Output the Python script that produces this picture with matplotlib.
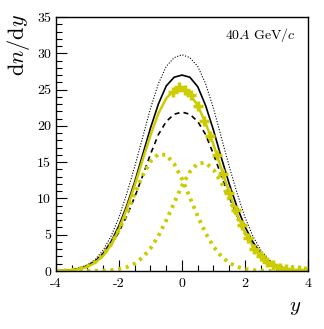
import numpy as np
import matplotlib
matplotlib.use("Agg")
import matplotlib.pyplot as plt
from matplotlib.ticker import MultipleLocator, FuncFormatter

plt.rcParams['mathtext.fontset'] = 'cm'
plt.rcParams['font.family'] = ['cmr10', 'DejaVu Serif']

# rapidity grid of the model curves
y = np.arange(-4, 4.01, 0.25)

# model curves, dn/dy
total_dotted = [0.03, 0.08, 0.19, 0.42, 0.85, 1.6, 2.9, 4.8, 7.4, 10.7, 14.4, 18.4, 22.4, 25.8, 28.2, 29.4, 29.8,
                29.4, 28.2, 25.8, 22.4, 18.4, 14.4, 10.7, 7.4, 4.8, 2.9, 1.6, 0.85, 0.42, 0.19, 0.08, 0.03]
total_solid = [0.03, 0.07, 0.16, 0.35, 0.72, 1.38, 2.45, 4.05, 6.25, 9.05, 12.3, 16.0, 19.7, 23.0, 25.5, 26.7, 27.0,
               26.7, 25.4, 22.8, 19.4, 15.6, 12.0, 8.8, 6.1, 4.0, 2.45, 1.4, 0.75, 0.37, 0.17, 0.07, 0.03]
total_dashed = [0.03, 0.07, 0.16, 0.35, 0.7, 1.3, 2.25, 3.6, 5.4, 7.6, 10.2, 13.1, 16.1, 18.8, 20.6, 21.6, 21.9,
                21.6, 20.6, 18.8, 16.1, 13.1, 10.2, 7.6, 5.4, 3.6, 2.25, 1.3, 0.7, 0.35, 0.16, 0.07, 0.03]
fit_sum = [0.02, 0.05, 0.12, 0.27, 0.58, 1.15, 2.1, 3.6, 5.75, 8.6, 11.8, 15.3, 18.7, 21.7, 23.8, 24.9, 25.1,
           24.4, 22.8, 20.4, 17.4, 14.1, 10.8, 7.8, 5.3, 3.4, 2.0, 1.1, 0.58, 0.28, 0.13, 0.06, 0.02]
fit_left = [0.025, 0.063, 0.15, 0.33, 0.67, 1.27, 2.24, 3.69, 5.65, 8.05, 10.67, 13.16, 15.09, 16.11, 15.99, 14.77,
            12.69, 10.14, 7.54, 5.22, 3.36, 2.01, 1.12, 0.58, 0.28, 0.13, 0.05, 0.02, 0.01, 0.0, 0.0, 0.0, 0.0]
fit_right = [0.0, 0.0, 0.0, 0.0, 0.01, 0.02, 0.05, 0.12, 0.26, 0.54, 1.04, 1.86, 3.11, 4.83, 6.98, 9.39, 11.75,
             13.68, 14.81, 14.91, 13.97, 12.18, 9.88, 7.46, 5.23, 3.42, 2.07, 1.17, 0.62, 0.30, 0.14, 0.06, 0.02]

# measured points
data_y = [-0.3, -0.1, 0.1, 0.3, 0.5, 0.7, 0.9, 1.1, 1.3, 1.5, 1.7, 1.9, 2.1, 2.3, 2.5, 2.7, 2.9, 3.1, 3.3, 3.5, 3.7, 3.9]
data_dndy = [24.6, 25.3, 25.0, 24.2, 22.8, 20.7, 18.6, 16.0, 13.4, 10.8, 8.4, 6.3, 4.5, 3.1, 2.0, 1.3, 0.8, 0.45,
             0.25, 0.13, 0.07, 0.03]

yellow = '#cccc00'

fig = plt.figure(figsize=(3.24, 3.29), dpi=100)
ax = fig.add_axes([0.1728, 0.1763, 0.7778, 0.772])

ax.plot(y, total_dotted, color='black', lw=0.8, ls=(0, (1, 1.5)))
ax.plot(y, total_solid, color='black', lw=1.2)
ax.plot(y, total_dashed, color='black', lw=1.2, ls=(0, (3, 2.5)))
ax.plot(y, fit_left, color=yellow, lw=2.8, ls=(0, (0.8, 1.2)))
ax.plot(y, fit_right, color=yellow, lw=2.8, ls=(0, (0.8, 1.2)))
ax.plot(y, fit_sum, color=yellow, lw=1.8)
ax.plot(data_y, data_dndy, ls='none', marker='+', ms=7.5, mew=2.5, color=yellow)

ax.set_xlim(-4, 4)
ax.set_ylim(0, 35)
ax.xaxis.set_major_locator(MultipleLocator(2))
ax.xaxis.set_minor_locator(MultipleLocator(0.5))
ax.yaxis.set_major_locator(MultipleLocator(5))
ax.yaxis.set_minor_locator(MultipleLocator(1))
fmt = FuncFormatter(lambda v, p: '%d' % round(v))
ax.xaxis.set_major_formatter(fmt)
ax.yaxis.set_major_formatter(fmt)
ax.tick_params(which='both', direction='in', top=False, right=False, labelsize=10)
ax.tick_params(which='major', length=8, width=0.8)
ax.tick_params(which='minor', length=4, width=0.8)
ax.tick_params(axis='x', pad=5)
for s in ax.spines.values():
    s.set_linewidth(1.0)

ax.set_ylabel(r'$\mathrm{d}n/\mathrm{d}y$', fontsize=16, loc='top')
ax.yaxis.set_label_coords(-0.095, 1.01)
ax.set_xlabel(r'$y$', fontsize=15, loc='right')
ax.xaxis.set_label_coords(0.975, -0.11)
ax.text(0.95, 0.965, r'$40A\ \mathrm{GeV}/c$', transform=ax.transAxes, ha='right', va='top', fontsize=10)

fig.savefig('out.png', dpi=100)
